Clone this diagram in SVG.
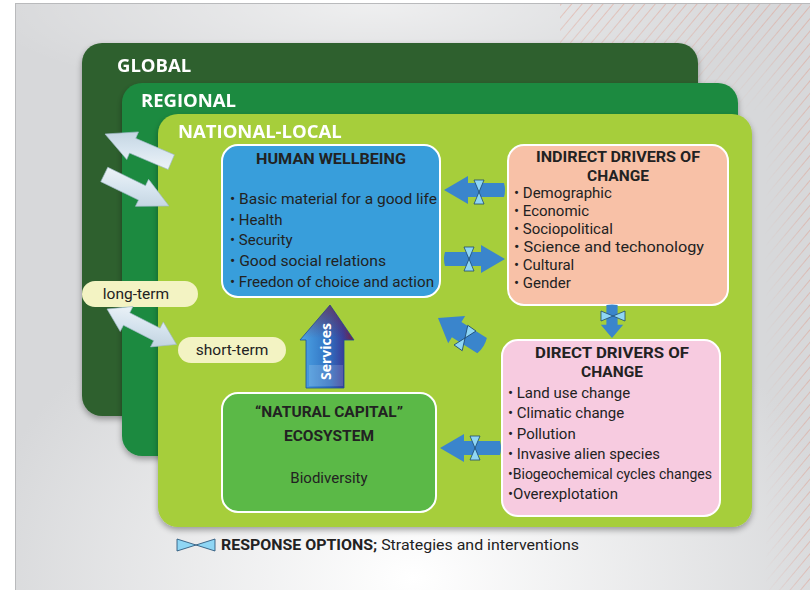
<svg xmlns="http://www.w3.org/2000/svg" width="810" height="590" viewBox="0 0 810 590">
<style>
  .lvl{font-family:"Open Sans","Liberation Sans",sans-serif;font-weight:bold;fill:#fff;font-size:18.5px}
  .ttl{font-family:Roboto,"Liberation Sans",sans-serif;font-weight:bold;fill:#222;font-size:15.5px;text-anchor:middle}
  .itm{font-family:Roboto,"Liberation Sans",sans-serif;fill:#222;font-size:15px}
  .pill{fill:#f3f3c3}
  .ptx{font-family:Roboto,"Liberation Sans",sans-serif;fill:#222;font-size:15.5px;text-anchor:middle}
  .barrow{fill:#3a85cc}
  .garrow{fill:url(#gArrow);stroke:#9fb8c8;stroke-width:0.6}
  .box{stroke:#fff;stroke-width:2}
</style>
<defs>
  <radialGradient id="bgGlow" cx="0.5" cy="0.98" r="0.55">
    <stop offset="0" stop-color="#ffffff"/>
    <stop offset="1" stop-color="#d7d8da"/>
  </radialGradient>
  <radialGradient id="topGlow" cx="0.45" cy="0" r="0.5">
    <stop offset="0" stop-color="#ffffff" stop-opacity="0.6"/>
    <stop offset="1" stop-color="#ffffff" stop-opacity="0"/>
  </radialGradient>
  <pattern id="hatch" width="8" height="8" patternUnits="userSpaceOnUse" patternTransform="rotate(40)">
    <line x1="0" y1="0" x2="0" y2="8" stroke="#e2907c" stroke-width="1.1"/>
  </pattern>
  <linearGradient id="hatchFadeTop" x1="0" y1="0" x2="0" y2="1">
    <stop offset="0" stop-color="#fff" stop-opacity="1"/>
    <stop offset="1" stop-color="#fff" stop-opacity="0"/>
  </linearGradient>
  <linearGradient id="hatchFadeSide" x1="1" y1="0" x2="0" y2="0">
    <stop offset="0" stop-color="#fff" stop-opacity="1"/>
    <stop offset="1" stop-color="#fff" stop-opacity="0"/>
  </linearGradient>
  <mask id="hatchMask">
    <rect x="560" y="3" width="250" height="110" fill="url(#hatchFadeTop)"/>
    <rect x="765" y="3" width="45" height="587" fill="url(#hatchFadeSide)"/>
  </mask>
  <linearGradient id="gArrow" x1="0" y1="0" x2="1" y2="1">
    <stop offset="0" stop-color="#f4f8fb"/>
    <stop offset="0.5" stop-color="#d5e3ee"/>
    <stop offset="1" stop-color="#b9ccda"/>
  </linearGradient>
  <linearGradient id="svcGrad" x1="0" y1="0" x2="1" y2="0">
    <stop offset="0" stop-color="#4ea6e6"/>
    <stop offset="0.55" stop-color="#2f6fc0"/>
    <stop offset="0.8" stop-color="#3a3f9a"/>
    <stop offset="1" stop-color="#7a1f3a"/>
  </linearGradient>
  <linearGradient id="svcTop" x1="0" y1="0" x2="0" y2="1">
    <stop offset="0" stop-color="#7a1f3a" stop-opacity="0.6"/>
    <stop offset="0.4" stop-color="#7a1f3a" stop-opacity="0"/>
  </linearGradient>
  <filter id="shadow" x="-10%" y="-10%" width="120%" height="125%">
    <feGaussianBlur in="SourceAlpha" stdDeviation="3"/>
    <feOffset dx="0" dy="3"/>
    <feComponentTransfer><feFuncA type="linear" slope="0.35"/></feComponentTransfer>
    <feMerge><feMergeNode/><feMergeNode in="SourceGraphic"/></feMerge>
  </filter>
  <!-- response-option bow tie, centred on its crossing point, vertical -->
  <symbol id="bowtie" overflow="visible">
    <path d="M-5,-12 L5,-12 L0,0 Z M-5,12 L5,12 L0,0 Z" fill="#8fd6f4" stroke="#1e4a70" stroke-width="0.8" stroke-linejoin="round"/>
  </symbol>
  <!-- thick blue arrow pointing right, tip at origin -->
  <path id="blueArrow" d="M-60,-7 L-24,-7 L-24,-14 L0,0 L-24,14 L-24,7 L-60,7 Q-62,0 -60,-7 Z"/>
  <path id="blueArrowShort" d="M-52,-9 L-22,-9 L-22,-16 L0,0 L-22,16 L-22,9 L-52,9 Q-55,0 -52,-9 Z"/>
  <!-- light 3D arrow pointing right, tip at origin -->
  <path id="lightArrow" d="M-72,-8 L-30,-8 L-30,-15 L0,0 L-30,15 L-30,8 L-72,8 Z"/>
  <path id="lightDouble" d="M0,0 L22,-14 L22,-7 L56,-7 L56,-14 L78,0 L56,14 L56,7 L22,7 L22,14 Z"/>
</defs>

<!-- backdrop -->
<rect x="0" y="0" width="810" height="590" fill="#ffffff"/>
<rect x="15" y="3" width="795" height="587" fill="url(#bgGlow)"/>
<rect x="15" y="3" width="795" height="200" fill="url(#topGlow)"/>
<rect x="15" y="3" width="795" height="587" fill="url(#hatch)" mask="url(#hatchMask)" opacity="0.8"/>
<line x1="15" y1="3.5" x2="810" y2="3.5" stroke="#b9babc" stroke-width="1"/>
<line x1="15.5" y1="3" x2="15.5" y2="590" stroke="#b9babc" stroke-width="1"/>

<!-- nested scale panels -->
<g id="global" filter="url(#shadow)">
  <rect x="82" y="43" width="616" height="373" rx="20" fill="#2f612f"/>
  <text class="lvl" x="117" y="72">GLOBAL</text>
</g>
<g id="regional" filter="url(#shadow)">
  <rect x="122" y="83" width="616" height="373" rx="20" fill="#1d8a40"/>
  <text class="lvl" x="141" y="107">REGIONAL</text>
</g>
<g id="national-local" filter="url(#shadow)">
  <rect x="158" y="114" width="594" height="413" rx="20" fill="#a6ce3a"/>
  <text class="lvl" x="178" y="138">NATIONAL-LOCAL</text>
</g>

<!-- boxes -->
<g id="human-wellbeing">
  <rect class="box" x="222" y="145" width="218" height="152" rx="16" fill="#389edb"/>
  <text class="ttl" x="331" y="164" textLength="150" lengthAdjust="spacingAndGlyphs">HUMAN WELLBEING</text>
  <text class="itm" x="230" y="204" textLength="207" lengthAdjust="spacingAndGlyphs">• Basic material for a good life</text>
  <text class="itm" x="230" y="225">• Health</text>
  <text class="itm" x="230" y="245">• Security</text>
  <text class="itm" x="230" y="266" textLength="156" lengthAdjust="spacingAndGlyphs">• Good social relations</text>
  <text class="itm" x="230" y="287" textLength="204" lengthAdjust="spacingAndGlyphs">• Freedon of choice and action</text>
</g>

<g id="indirect-drivers">
  <rect class="box" x="508" y="145" width="220" height="160" rx="16" fill="#f8c1a7"/>
  <text class="ttl" x="618" y="162" textLength="164" lengthAdjust="spacingAndGlyphs">INDIRECT DRIVERS OF</text>
  <text class="ttl" x="618" y="181">CHANGE</text>
  <text class="itm" x="514" y="198">• Demographic</text>
  <text class="itm" x="514" y="216">• Economic</text>
  <text class="itm" x="514" y="234">• Sociopolitical</text>
  <text class="itm" x="514" y="252" textLength="190" lengthAdjust="spacingAndGlyphs">• Science and techonology</text>
  <text class="itm" x="514" y="270">• Cultural</text>
  <text class="itm" x="514" y="288">• Gender</text>
</g>

<g id="direct-drivers">
  <rect class="box" x="502" y="340" width="218" height="176" rx="16" fill="#f7cbe0"/>
  <text class="ttl" x="612" y="358" textLength="154" lengthAdjust="spacingAndGlyphs">DIRECT  DRIVERS OF</text>
  <text class="ttl" x="612" y="377">CHANGE</text>
  <text class="itm" x="508" y="398">• Land use change</text>
  <text class="itm" x="508" y="418">• Climatic change</text>
  <text class="itm" x="508" y="439">• Pollution</text>
  <text class="itm" x="508" y="459" textLength="152" lengthAdjust="spacingAndGlyphs">• Invasive alien species</text>
  <text class="itm" x="508" y="479" textLength="204" lengthAdjust="spacingAndGlyphs">•Biogeochemical cycles changes</text>
  <text class="itm" x="508" y="499">•Overexplotation</text>
</g>

<g id="natural-capital">
  <rect class="box" x="222" y="393" width="214" height="119" rx="16" fill="#5bb947"/>
  <text class="ttl" x="329" y="417">“NATURAL CAPITAL”</text>
  <text class="ttl" x="329" y="441">ECOSYSTEM</text>
  <text class="itm" x="329" y="483" text-anchor="middle">Biodiversity</text>
</g>

<!-- time horizon labels -->
<g id="long-term">
  <rect class="pill" x="82" y="281" width="116" height="26" rx="13"/>
  <text class="ptx" x="136" y="299">long-term</text>
</g>
<g id="short-term">
  <rect class="pill" x="178" y="337" width="108" height="26" rx="13"/>
  <text class="ptx" x="232" y="355">short-term</text>
</g>

<!-- connectors -->
<g id="connectors">
  <!-- cross-scale arrows -->
  <use href="#lightArrow" class="garrow" transform="translate(105,134) rotate(203)"/>
  <use href="#lightArrow" class="garrow" transform="translate(169,206) rotate(26)"/>
  <use href="#lightDouble" class="garrow" transform="translate(107,309) rotate(27)"/>

  <!-- driver / wellbeing flows -->
  <use href="#blueArrow" class="barrow" transform="translate(444,190) rotate(180)"/>
  <use href="#bowtie" transform="translate(479,192)"/>
  <use href="#blueArrow" class="barrow" transform="translate(505,259)"/>
  <use href="#bowtie" transform="translate(469,259)"/>
  <use href="#blueArrow" class="barrow" transform="translate(612,338) rotate(90) scale(0.55,0.8)"/>
  <use href="#bowtie" transform="translate(613,316) rotate(90)"/>
  <use href="#blueArrowShort" class="barrow" transform="translate(438,318) rotate(212)"/>
  <use href="#bowtie" transform="translate(465,338) rotate(35)"/>
  <use href="#blueArrow" class="barrow" transform="translate(440,448) rotate(180)"/>
  <use href="#bowtie" transform="translate(475,448)"/>

  <!-- ecosystem services -->
  <g id="services">
    <path d="M330,305 L354,340 L344,340 L344,388 L306,388 L306,340 L300,340 Z" fill="url(#svcGrad)" stroke="#1a4f99" stroke-width="0.8"/>
    <path d="M330,305 L354,340 L344,340 L344,388 L306,388 L306,340 L300,340 Z" fill="url(#svcTop)"/>
    <path d="M309,365 L343,365 L343,386 L309,386 Z" fill="#ffffff" opacity="0.15"/>
    <text transform="translate(331,380) rotate(-90)" font-family="'Open Sans','Liberation Sans',sans-serif" font-weight="bold" font-size="14" fill="#fff">Services</text>
  </g>
</g>

<!-- legend -->
<g id="legend">
  <path d="M177,539 L196,545 L177,551 Z M215,539 L196,545 L215,551 Z" fill="#8fd6f4" stroke="#1e4a70" stroke-width="0.8" stroke-linejoin="round"/>
  <text x="221" y="550" font-family="Roboto,'Liberation Sans',sans-serif" font-size="15.5" fill="#222" textLength="358" lengthAdjust="spacingAndGlyphs"><tspan font-weight="bold">RESPONSE OPTIONS;</tspan> Strategies and interventions</text>
</g>
</svg>
